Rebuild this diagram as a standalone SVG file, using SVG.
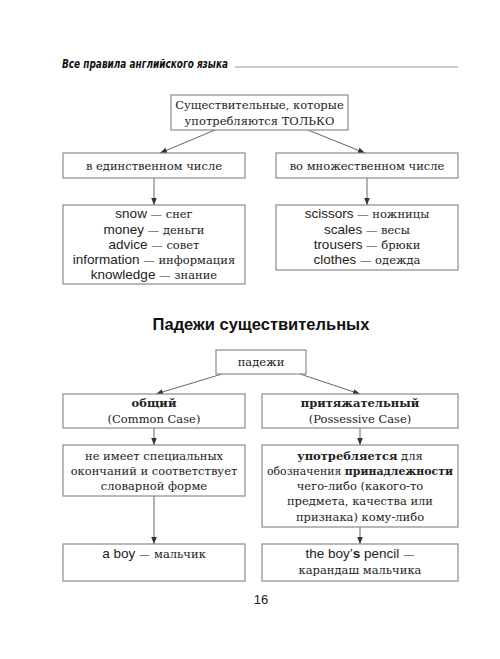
<svg xmlns="http://www.w3.org/2000/svg" width="500" height="659" viewBox="0 0 500 659">
<style>
.box{fill:#fff;stroke:#8a8a8a;stroke-width:1.2}
.s{font-family:"DejaVu Serif","Liberation Serif",serif;font-size:11.5px;fill:#222;text-anchor:middle}
.a{font-family:"Liberation Sans","Arial",sans-serif;font-size:13.5px;fill:#222}
.b{font-weight:bold}
.ln{stroke:#666;stroke-width:1;fill:none}
</style>
<defs>
<marker id="ar" viewBox="0 0 10 10" refX="10" refY="5" markerWidth="7" markerHeight="7" orient="auto" markerUnits="userSpaceOnUse">
<path d="M0,1 L10,5 L0,9 Z" fill="#333"/>
</marker>
</defs>
<rect width="500" height="659" fill="#fff"/>
<g id="header">
<text x="62" y="68" font-family="DejaVu Sans,sans-serif" font-size="12" font-weight="bold" font-style="italic" fill="#111" textLength="166" lengthAdjust="spacingAndGlyphs">Все правила английского языка</text>
<line x1="235" y1="67" x2="458" y2="67" stroke="#999" stroke-width="1.2"/>
</g>
<g id="connectors">
<line class="ln" x1="215" y1="130" x2="160" y2="153" marker-end="url(#ar)"/>
<line class="ln" x1="308" y1="130" x2="365" y2="153" marker-end="url(#ar)"/>
<line class="ln" x1="154" y1="178" x2="154" y2="205" marker-end="url(#ar)"/>
<line class="ln" x1="367" y1="178" x2="367" y2="205" marker-end="url(#ar)"/>
<line class="ln" x1="222" y1="374" x2="156" y2="394" marker-end="url(#ar)"/>
<line class="ln" x1="300" y1="374" x2="360" y2="394" marker-end="url(#ar)"/>
<line class="ln" x1="154" y1="428" x2="154" y2="445" marker-end="url(#ar)"/>
<line class="ln" x1="360" y1="428" x2="360" y2="445" marker-end="url(#ar)"/>
<line class="ln" x1="154" y1="496" x2="154" y2="544" marker-end="url(#ar)"/>
<line class="ln" x1="360" y1="527" x2="360" y2="544" marker-end="url(#ar)"/>
</g>
<g id="n-top">
<rect class="box" x="171" y="95" width="177" height="35"/>
<text class="s" x="259.5" y="109">Существительные, которые</text>
<text class="s" x="259.5" y="125">употребляются ТОЛЬКО</text>
</g>
<g id="n-sing">
<rect class="box" x="63" y="153" width="182" height="25"/>
<text class="s" x="154" y="169.5">в единственном числе</text>
</g>
<g id="n-plur">
<rect class="box" x="276" y="153" width="182" height="25"/>
<text class="s" x="367" y="169.5">во множественном числе</text>
</g>
<g id="n-sing-list">
<rect class="box" x="63" y="205" width="182" height="79"/>
<text class="s" x="154" y="218"><tspan class="a">snow</tspan> — снег</text>
<text class="s" x="154" y="233.5"><tspan class="a">money</tspan> — деньги</text>
<text class="s" x="154" y="248.5"><tspan class="a">advice</tspan> — совет</text>
<text class="s" x="154" y="264"><tspan class="a">information</tspan> — информация</text>
<text class="s" x="154" y="279"><tspan class="a">knowledge</tspan> — знание</text>
</g>
<g id="n-plur-list">
<rect class="box" x="276" y="205" width="182" height="65"/>
<text class="s" x="367" y="218"><tspan class="a">scissors</tspan> — ножницы</text>
<text class="s" x="367" y="233.5"><tspan class="a">scales</tspan> — весы</text>
<text class="s" x="367" y="248.5"><tspan class="a">trousers</tspan> — брюки</text>
<text class="s" x="367" y="264"><tspan class="a">clothes</tspan> — одежда</text>
</g>
<g id="title">
<text x="261" y="330" font-family="Liberation Sans,Arial,sans-serif" font-size="16.5" font-weight="bold" fill="#111" text-anchor="middle">Падежи существительных</text>
</g>
<g id="n-cases">
<rect class="box" x="216" y="350" width="90" height="24"/>
<text class="s" x="261" y="366">падежи</text>
</g>
<g id="n-common">
<rect class="box" x="63" y="394" width="182" height="34"/>
<text class="s b" x="154" y="407">общий</text>
<text class="s" x="154" y="423">(Common Case)</text>
</g>
<g id="n-poss">
<rect class="box" x="262" y="394" width="196" height="34"/>
<text class="s b" x="360" y="407">притяжательный</text>
<text class="s" x="360" y="423">(Possessive Case)</text>
</g>
<g id="n-common-desc">
<rect class="box" x="63" y="445" width="182" height="51"/>
<text class="s" x="154" y="460">не имеет специальных</text>
<text class="s" x="154" y="475">окончаний и соответствует</text>
<text class="s" x="154" y="490">словарной форме</text>
</g>
<g id="n-poss-desc">
<rect class="box" x="262" y="445" width="196" height="82"/>
<text class="s" x="360" y="460"><tspan class="b">употребляется</tspan> для</text>
<text class="s" x="360" y="475" textLength="186" lengthAdjust="spacingAndGlyphs">обозначения <tspan class="b">принадлежности</tspan></text>
<text class="s" x="360" y="490">чего-либо (какого-то</text>
<text class="s" x="360" y="505">предмета, качества или</text>
<text class="s" x="360" y="521">признака) кому-либо</text>
</g>
<g id="n-common-ex">
<rect class="box" x="63" y="544" width="182" height="37"/>
<text class="s" x="154" y="558"><tspan class="a">a boy</tspan> — мальчик</text>
</g>
<g id="n-poss-ex">
<rect class="box" x="262" y="544" width="196" height="37"/>
<text class="s" x="360" y="558"><tspan class="a">the boy’<tspan class="b">s</tspan> pencil</tspan> —</text>
<text class="s" x="360" y="574">карандаш мальчика</text>
</g>
<g id="page">
<text x="261" y="604" font-family="Liberation Sans,Arial,sans-serif" font-size="13" fill="#222" text-anchor="middle">16</text>
</g>
</svg>
